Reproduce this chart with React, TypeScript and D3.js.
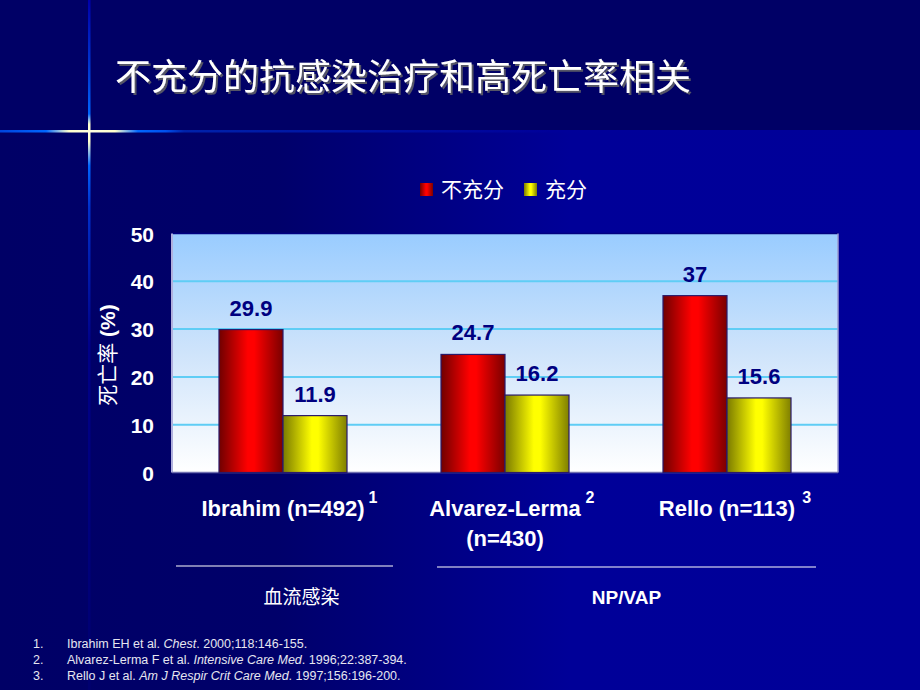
import React, { useEffect, useRef } from "react";
import * as d3 from "d3";

const title = "不充分的抗感染治疗和高死亡率相关";
const categories = ["Ibrahim (n=492)", "Alvarez-Lerma", "Rello (n=113)"];
const categorySecondLine = ["", "(n=430)", ""];
const categoryRefs = ["1", "2", "3"];
const seriesNames = ["不充分", "充分"];
const inadequate = [29.9, 24.7, 37];
const adequate = [11.9, 16.2, 15.6];
const yTicks = [0, 10, 20, 30, 40, 50];
const yTitleCjk = "死亡率";
const yTitleUnit = " (%)";
const groupLabels = ["血流感染", "NP/VAP"];
const groupFirst = [0, 1];
const groupLast = [0, 2];
const footnoteItalic = ["Chest", "Intensive Care Med", "Am J Respir Crit Care Med"];
const footnoteBefore = ["Ibrahim EH et al. ", "Alvarez-Lerma F et al. ", "Rello J et al. "];
const footnoteAfter = [". 2000;118:146-155.", ". 1996;22:387-394.", ". 1997;156:196-200."];

const W = 920;
const H = 690;
const plot = { left: 172, right: 838, top: 233.5, bottom: 472.5 };
const groupInsets = [
  [4, -1, 17],
  [43, -22, 0],
];
const SANS = "Arial, 'Liberation Sans', sans-serif";
const CJK = "'Noto Sans CJK SC', sans-serif";

export default function App() {
  const supRef = useRef<SVGGElement | null>(null);

  const x0 = d3
    .scaleBand<number>()
    .domain(d3.range(categories.length))
    .range([plot.left, plot.right])
    .paddingInner(0.4234)
    .paddingOuter(0.2117);
  const x1 = d3.scaleBand<number>().domain([0, 1]).range([0, x0.bandwidth()]);
  const y = d3.scaleLinear().domain([0, 50]).range([plot.bottom, plot.top]);
  const seriesValues = [inadequate, adequate];
  const fills = ["url(#gRed)", "url(#gYellow)"];
  const step = x0.step();
  const stepStart = (i: number) => plot.left + i * step;

  useEffect(() => {
    const g = d3.select(supRef.current);
    g.selectAll("text.main").each(function (_d, i) {
      const bb = (this as SVGTextElement).getBBox();
      g.select(`text.sup${i}`).attr("x", bb.x + bb.width + (i === 2 ? 7 : 4));
    });
  }, []);

  return (
    <svg
      width={W}
      height={H}
      style={{ position: "fixed", left: 0, top: 0 }}
      xmlns="http://www.w3.org/2000/svg"
    >
      <defs>
        <linearGradient id="gBg" x1="0" x2="1" y1="0" y2="0">
          <stop offset="0" stopColor="#000066" />
          <stop offset="0.3" stopColor="#00006a" />
          <stop offset="0.62" stopColor="#000098" />
          <stop offset="1" stopColor="#000099" />
        </linearGradient>
        <linearGradient id="gPlot" x1="0" x2="0" y1="0" y2="1">
          <stop offset="0" stopColor="#99ccff" />
          <stop offset="0.5" stopColor="#cfe4fb" />
          <stop offset="1" stopColor="#ffffff" />
        </linearGradient>
        <linearGradient id="gRed" x1="0" x2="1" y1="0" y2="0">
          <stop offset="0" stopColor="#700000" />
          <stop offset="0.45" stopColor="#ff0000" />
          <stop offset="0.55" stopColor="#ff0000" />
          <stop offset="1" stopColor="#7a0000" />
        </linearGradient>
        <linearGradient id="gYellow" x1="0" x2="1" y1="0" y2="0">
          <stop offset="0" stopColor="#7a7a00" />
          <stop offset="0.45" stopColor="#ffff00" />
          <stop offset="0.55" stopColor="#ffff00" />
          <stop offset="1" stopColor="#7f7f00" />
        </linearGradient>
        <linearGradient id="gHLine" x1="0" x2="1" y1="0" y2="0">
          <stop offset="0" stopColor="#0044dd" />
          <stop offset="0.05" stopColor="#0066ff" />
          <stop offset="0.075" stopColor="#ffffcc" />
          <stop offset="0.1" stopColor="#ffffe0" />
          <stop offset="0.125" stopColor="#ffffcc" />
          <stop offset="0.15" stopColor="#0066ff" />
          <stop offset="0.18" stopColor="#0050ee" />
          <stop offset="0.2" stopColor="#0022aa" />
          <stop offset="0.6" stopColor="#000099" />
          <stop offset="1" stopColor="#000099" />
        </linearGradient>
        <linearGradient id="gVLine" x1="0" x2="0" y1="0" y2="1">
          <stop offset="0" stopColor="#0000aa" />
          <stop offset="0.12" stopColor="#0044dd" />
          <stop offset="0.165" stopColor="#0066ff" />
          <stop offset="0.18" stopColor="#ffffcc" />
          <stop offset="0.19" stopColor="#ffffe0" />
          <stop offset="0.205" stopColor="#ffffcc" />
          <stop offset="0.24" stopColor="#0066ff" />
          <stop offset="0.3" stopColor="#0030cc" />
          <stop offset="0.5" stopColor="#000088" />
          <stop offset="1" stopColor="#000070" />
        </linearGradient>
        <filter id="shadow" x="-5%" y="-20%" width="110%" height="150%">
          <feDropShadow dx="2" dy="2" stdDeviation="0.4" floodColor="#555566" floodOpacity="1" />
        </filter>
      </defs>

      {/* slide background */}
      <rect x={0} y={0} width={W} height={H} fill="url(#gBg)" />
      <rect x={0} y={0} width={W} height={131} fill="#000066" />
      <rect x={0} y={130} width={W} height={2.5} fill="url(#gHLine)" />
      <rect x={88} y={0} width={2.5} height={H} fill="url(#gVLine)" />

      {/* title */}
      <text x={115} y={90} fontFamily={CJK} fontSize={36} fill="#ffffff" filter="url(#shadow)">
        {title}
      </text>

      {/* legend */}
      {seriesNames.map((s, i) => (
        <g key={s} transform={`translate(${i === 0 ? 420 : 524},183)`}>
          <rect width={13} height={13} fill={fills[i]} />
          <text x={21} y={14} fontFamily={CJK} fontSize={21} fill="#ffffff">
            {s}
          </text>
        </g>
      ))}

      {/* plot area */}
      <rect
        x={plot.left}
        y={plot.top}
        width={plot.right - plot.left}
        height={plot.bottom - plot.top}
        fill="url(#gPlot)"
      />
      {yTicks
        .filter((t) => t > 0 && t < 50)
        .map((t) => (
          <line
            key={t}
            x1={plot.left}
            x2={plot.right}
            y1={y(t)}
            y2={y(t)}
            stroke="#5fcdf5"
            strokeWidth={2}
          />
        ))}
      <line x1={plot.left} x2={plot.right} y1={plot.top} y2={plot.top} stroke="#000080" strokeWidth={1.5} />
      <line x1={plot.left} x2={plot.left} y1={plot.top} y2={plot.bottom} stroke="#b0b0dd" strokeWidth={2} />
      <line x1={plot.right} x2={plot.right} y1={plot.top} y2={plot.bottom} stroke="#9a9ad0" strokeWidth={1.5} />
      <line x1={plot.left} x2={plot.right} y1={plot.bottom} y2={plot.bottom} stroke="#7070b0" strokeWidth={1.5} />

      {/* bars */}
      {categories.map((c, i) =>
        seriesValues.map((vals, s) => (
          <rect
            key={`${c}-${s}`}
            x={(x0(i) as number) + (x1(s) as number)}
            y={y(vals[i])}
            width={x1.bandwidth()}
            height={y(0) - y(vals[i])}
            fill={fills[s]}
            stroke="#2a1a6a"
            strokeWidth={1.2}
          />
        ))
      )}

      {/* value labels */}
      {categories.map((c, i) =>
        seriesValues.map((vals, s) => (
          <text
            key={`v-${c}-${s}`}
            x={(x0(i) as number) + (x1(s) as number) + x1.bandwidth() / 2}
            y={y(vals[i]) - 14}
            textAnchor="middle"
            fontFamily={SANS}
            fontWeight="bold"
            fontSize={22}
            fill="#000080"
          >
            {String(vals[i])}
          </text>
        ))
      )}

      {/* y axis */}
      {yTicks.map((t) => (
        <text
          key={t}
          x={154}
          y={y(t) + 8}
          textAnchor="end"
          fontFamily={SANS}
          fontWeight="bold"
          fontSize={21}
          fill="#ffffff"
        >
          {t}
        </text>
      ))}
      <text
        transform="translate(115,355) rotate(-90)"
        textAnchor="middle"
        fontSize={21}
        fill="#ffffff"
      >
        <tspan fontFamily={CJK}>{yTitleCjk}</tspan>
        <tspan fontFamily={SANS} fontWeight="bold">
          {yTitleUnit}
        </tspan>
      </text>

      {/* category labels */}
      <g ref={supRef}>
        {categories.map((c, i) => (
          <text
            key={c}
            className="main"
            x={(x0(i) as number) + x0.bandwidth() / 2}
            y={516}
            textAnchor="middle"
            fontFamily={SANS}
            fontWeight="bold"
            fontSize={22}
            fill="#ffffff"
          >
            {c}
          </text>
        ))}
        {categories.map((c, i) => (
          <text
            key={`s-${c}`}
            className={`sup${i}`}
            x={(x0(i) as number) + x0.bandwidth()}
            y={503}
            fontFamily={SANS}
            fontWeight="bold"
            fontSize={16}
            fill="#ffffff"
          >
            {categoryRefs[i]}
          </text>
        ))}
        {categories.map((c, i) =>
          categorySecondLine[i] ? (
            <text
              key={`l2-${c}`}
              x={(x0(i) as number) + x0.bandwidth() / 2}
              y={546}
              textAnchor="middle"
              fontFamily={SANS}
              fontWeight="bold"
              fontSize={22}
              fill="#ffffff"
            >
              {categorySecondLine[i]}
            </text>
          ) : null
        )}
      </g>

      {/* group brackets */}
      {groupLabels.map((g, k) => {
        const xa = stepStart(groupFirst[k]) + groupInsets[k][0];
        const xb = stepStart(groupLast[k] + 1) + groupInsets[k][1];
        const yl = 566 + k;
        return (
          <g key={g}>
            <line x1={xa} x2={xb} y1={yl} y2={yl} stroke="#ffffff" strokeWidth={1.2} />
            <text
              x={(xa + xb) / 2 + groupInsets[k][2]}
              y={604}
              textAnchor="middle"
              fontFamily={k === 0 ? CJK : SANS}
              fontWeight={k === 0 ? "normal" : "bold"}
              fontSize={19}
              fill="#ffffff"
            >
              {g}
            </text>
          </g>
        );
      })}

      {/* footnotes */}
      {footnoteBefore.map((b, i) => (
        <g key={b} fontFamily={SANS} fontSize={12.5} fill="#e6e6f0">
          <text x={33} y={648 + i * 16}>
            {`${i + 1}.`}
          </text>
          <text x={67} y={648 + i * 16}>
            {b}
            <tspan fontStyle="italic">{footnoteItalic[i]}</tspan>
            {footnoteAfter[i]}
          </text>
        </g>
      ))}
    </svg>
  );
}
